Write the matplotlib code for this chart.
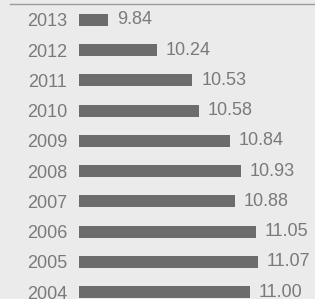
import matplotlib.pyplot as plt
from matplotlib.lines import Line2D

years = ['2013', '2012', '2011', '2010', '2009', '2008', '2007', '2006', '2005', '2004']
values = [9.84, 10.24, 10.53, 10.58, 10.84, 10.93, 10.88, 11.05, 11.07, 11.00]
base = 9.6

bg = '#ebebeb'
bar_col = '#6c6c6c'
txt_col = '#7a7a7a'

plt.rcParams['font.family'] = ['Liberation Sans', 'DejaVu Sans']

fig = plt.figure(figsize=(3.15, 2.99), dpi=100, facecolor=bg)
ax = fig.add_axes([79/315, 0, 236/315, 1])
ax.set_facecolor(bg)

pos = list(range(len(years)))
ax.barh(pos, [v - base for v in values], left=base, height=0.4, color=bar_col)
for p, v in zip(pos, values):
    ax.text(v + 0.072, p, f'{v:.2f}', va='center', ha='left',
            fontsize=13, color=txt_col)

ax.set_xlim(base, base + 236/122)
ax.set_ylim(9 + 7/30.25, -20/30.25)
ax.set_yticks(pos)
ax.set_yticklabels(years, fontsize=13, color=txt_col)
ax.tick_params(axis='y', length=0, pad=8.6)
ax.set_xticks([])
for s in ax.spines.values():
    s.set_visible(False)

fig.add_artist(Line2D([10/315, 1], [1 - 4/299, 1 - 4/299], color='#9a9a9a', lw=1))

fig.savefig('out.png', dpi=100, facecolor=bg)
